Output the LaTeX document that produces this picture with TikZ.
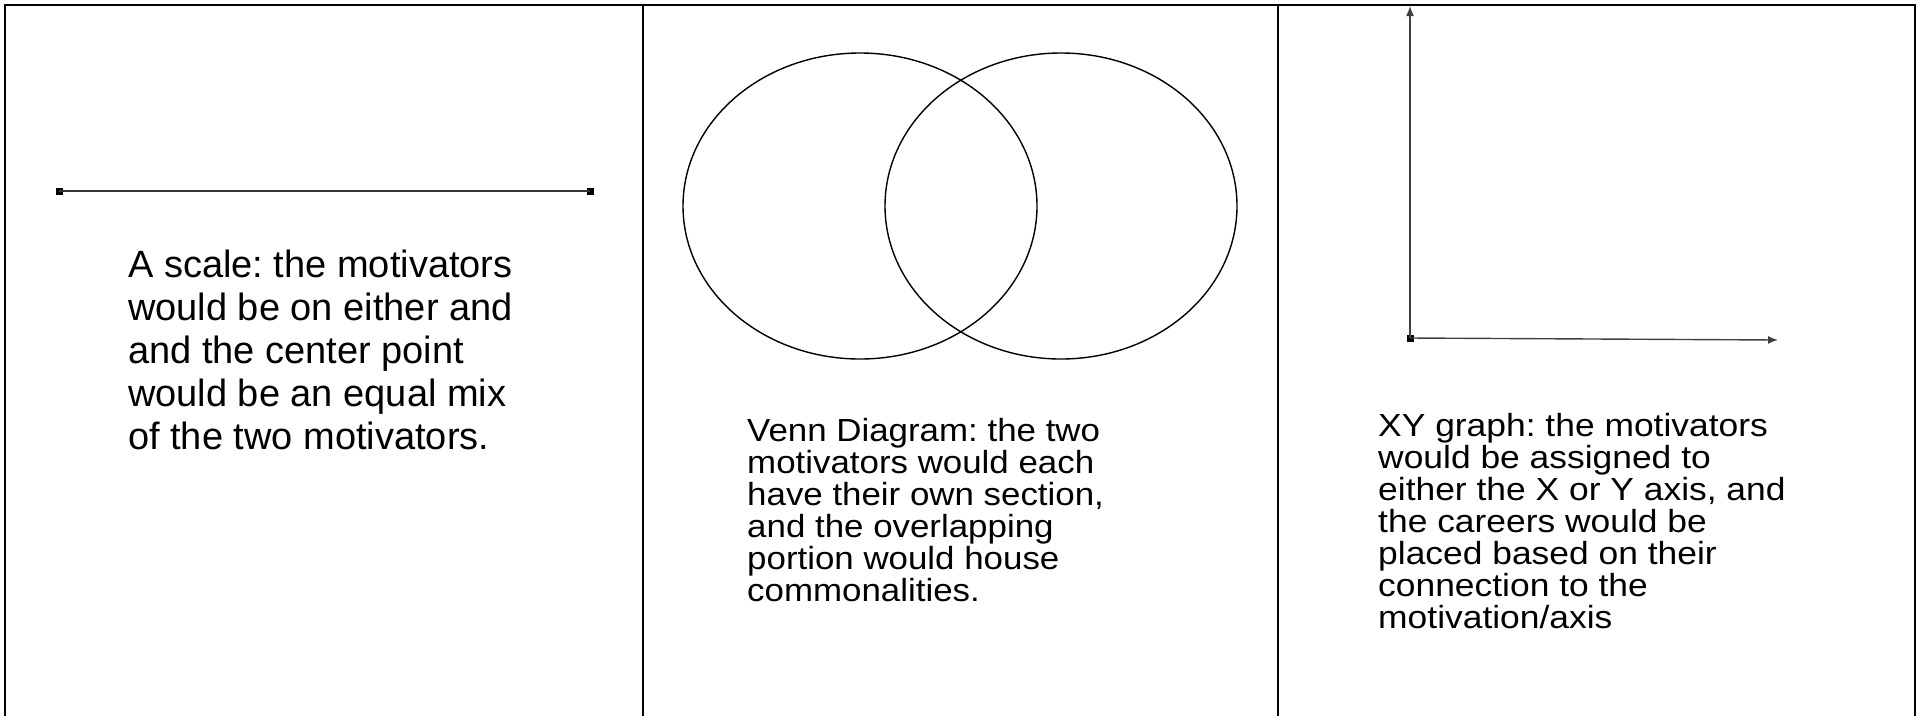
\documentclass[tikz,border=0pt]{standalone}
\usepackage{fontspec}
\setmainfont{Liberation Sans}
\usetikzlibrary{arrows.meta}
\frenchspacing

\begin{document}
\begin{tikzpicture}[x=1pt,y=-1pt]
	    \tikzstyle{frame}=[line width=2.6pt]
	    \tikzstyle{enddot}=[fill=black,shape=rectangle,minimum size=7pt,inner sep=0pt]
	    \tikzstyle{axis}=[line width=1.4pt,black!75,-{Latex[length=10pt,width=8pt]}]
	    \tikzstyle{bigtext}=[anchor=north west,inner sep=0pt,align=left,font=\fontsize{38}{43}\selectfont]
	    \tikzstyle{smalltext}=[anchor=north west,inner sep=0pt,align=left,xscale=1.09,transform shape,font=\fontsize{32}{32}\selectfont]
 
	    \useasboundingbox (0,0) rectangle (1921,716);
 
	    % table frame
	    \draw[frame] (5,716) -- (5,5) -- (1915,5) -- (1915,716);
	    \draw[frame] (643,5) -- (643,716);
	    \draw[frame] (1278,5) -- (1278,716);
 
	    % scale
	    \node[enddot](scaleL) at (59,191){};
	    \node[enddot](scaleR) at (590,191){};
	    \draw[line width=2pt,black!80] (scaleL.center) -- (scaleR.center);
	    \node[bigtext](scaletext) at (128,250){A scale: the motivators\\would be on either and\\and the center point\\would be an equal mix\\of the two motivators.};
 
	    % venn
	    \draw[line width=1.4pt] (860,206) ellipse [x radius=177,y radius=153];
	    \draw[line width=1.4pt] (1061,206) ellipse [x radius=176,y radius=153];
	    \node[smalltext](venntext) at (747,418){Venn Diagram: the two\\motivators would each\\have their own section,\\and the overlapping\\portion would house\\commonalities.};
 
	    % xy graph
	    \node[enddot](origin) at (1410,338){};
	    \coordinate (ytop) at (1410,6);
	    \coordinate (xend) at (1778,340);
	    \draw[axis] (origin.center) -- (ytop);
	    \draw[axis] (origin.center) -- (xend);
	    \node[smalltext,xscale=1.015](xytext) at (1378,413){XY graph: the motivators\\would be assigned to\\either the X or Y axis, and\\the careers would be\\placed based on their\\connection to the\\motivation/axis};
\end{tikzpicture}
\end{document}
